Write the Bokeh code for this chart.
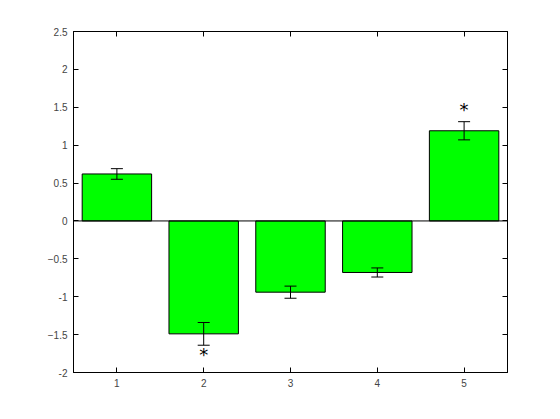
from bokeh.plotting import figure
from bokeh.models import Range1d, LinearAxis, FixedTicker, Whisker, ColumnDataSource, CustomJSTickFormatter
from bokeh.embed import file_html
from bokeh.resources import INLINE
from bokeh.core.properties import value

cats = [1, 2, 3, 4, 5]
vals = [0.62, -1.49, -0.94, -0.68, 1.19]
errs = [0.07, 0.15, 0.08, 0.06, 0.12]
star_x = [2, 5]
star_y = [-1.76, 1.47]
yticks = [-2, -1.5, -1, -0.5, 0, 0.5, 1, 1.5, 2, 2.5]

p = figure(width=552, height=411, output_backend="svg", toolbar_location=None,
           x_range=Range1d(0.5, 5.5), y_range=Range1d(-2, 2.5),
           min_border_left=73, min_border_right=45, min_border_top=31, min_border_bottom=39)
p.xgrid.visible = False
p.ygrid.visible = False
p.outline_line_color = "black"
p.background_fill_color = "white"

src = ColumnDataSource(dict(x=cats, top=vals,
                            lo=[v - e for v, e in zip(vals, errs)],
                            hi=[v + e for v, e in zip(vals, errs)]))
p.vbar(x="x", top="top", bottom=0, width=0.8, source=src,
       fill_color="#00ff00", line_color="black", line_width=1)
p.line(x=[0.5, 5.5], y=[0, 0], line_color="black", line_width=1)
w = Whisker(base="x", lower="lo", upper="hi", source=src, level="overlay",
            line_color="black", line_width=1)
w.upper_head.size = 12
w.lower_head.size = 12
p.add_layout(w)
p.text(x=star_x, y=star_y, text=["*", "*"], text_align="center", text_baseline="middle",
       text_font=value("DejaVu Sans"), text_font_size="18px", text_color="black")

blank = CustomJSTickFormatter(code="return ''")

def style(ax):
    ax.major_tick_in = 5
    ax.major_tick_out = 0
    ax.minor_tick_in = 0
    ax.minor_tick_out = 0
    ax.axis_line_color = "black"
    ax.major_label_text_font = "Liberation Sans"
    ax.major_label_text_font_size = "10px"
    ax.major_label_standoff = 6

p.xaxis.ticker = FixedTicker(ticks=cats)
p.yaxis.ticker = FixedTicker(ticks=yticks)
p.yaxis.major_label_overrides = {-2: "-2", -1: "-1", 0: "0", 1: "1", 2: "2"}
style(p.xaxis[0]); style(p.yaxis[0])

ra = LinearAxis(ticker=FixedTicker(ticks=yticks), formatter=blank)
ta = LinearAxis(ticker=FixedTicker(ticks=cats), formatter=blank)
style(ra); style(ta)
ra.major_label_standoff = 0; ta.major_label_standoff = 0
p.add_layout(ra, "right"); p.add_layout(ta, "above")

open("out.html", "w").write(file_html(p, INLINE))
